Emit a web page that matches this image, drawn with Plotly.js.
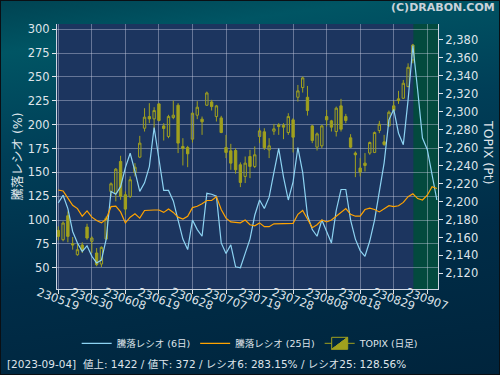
<!DOCTYPE html>
<html>
<head>
<meta charset="utf-8">
<script src="https://cdn.plot.ly/plotly-3.0.1.min.js"></script>
<style>
  html, body { margin:0; padding:0; }
  body { width:500px; height:375px; overflow:hidden;
    background: linear-gradient(172deg, #004352 0%, #005564 12%, #003f58 35%, #002d48 65%, #00243c 100%); }
  #wrap { position:absolute; left:0; top:0; width:500px; height:375px; box-sizing:border-box; border:1px solid #0a0f14; }
  #chart { position:absolute; left:0; top:0; width:500px; height:375px; }
</style>
</head>
<body>
<div id="wrap"></div>
<div id="chart"></div>
<script>
// Trading days (YYMMDD) on the category x axis
const dates = ['230519','230522','230523','230524','230525','230526','230529','230530','230531','230601',
 '230602','230605','230606','230607','230608','230609','230612','230613','230614','230615',
 '230616','230619','230620','230621','230622','230623','230626','230627','230628','230629',
 '230630','230703','230704','230705','230706','230707','230710','230711','230712','230713',
 '230714','230718','230719','230720','230721','230724','230725','230726','230727','230728',
 '230731','230801','230802','230803','230804','230807','230808','230809','230810','230814',
 '230815','230816','230817','230818','230821','230822','230823','230824','230825','230828',
 '230829','230830','230831','230901','230904','230905','230906','230907','230908','230911'];

// x tick labels
const tickLabels = ['230519','230530','230608','230619','230628','230707','230719','230728','230808','230818','230829','230907'];

// TOPIX daily candles (first 75 trading days)
const topixOpen = [2167.9,2157.5,2184.2,2153.1,2140.8,2151.6,2171.6,2155.7,2142.7,2130.4,
 2158.3,2211.3,2209.4,2244.7,2207.6,2205.7,2232.4,2249.5,2281.7,2294.7,
 2292.1,2308.8,2284.3,2272.5,2293.6,2307.3,2261.4,2260.2,2269.5,2296.2,
 2291.8,2307.3,2311.0,2294.7,2293.2,2260.2,2256.5,2256.9,2241.0,2228.0,
 2250.2,2239.1,2272.5,2277.7,2257.6,2278.4,2285.4,2285.1,2276.9,2291.0,
 2316.2,2327.0,2316.2,2284.3,2260.6,2262.1,2294.7,2289.9,2278.0,2306.6,
 2294.7,2271.0,2254.0,2237.3,2242.8,2254.0,2254.7,2279.1,2266.5,2284.3,
 2306.6,2314.4,2315.1,2328.1,2357.8];
const topixHigh = [2172.4,2177.9,2189.0,2160.5,2153.8,2154.6,2175.3,2161.2,2148.2,2150.1,
 2183.5,2221.3,2237.3,2251.0,2211.3,2228.0,2242.8,2273.2,2304.0,2309.6,
 2305.1,2309.6,2287.3,2296.6,2312.5,2309.6,2270.6,2262.1,2299.2,2311.8,
 2294.7,2322.5,2313.3,2307.7,2295.5,2274.3,2264.3,2259.5,2243.6,2250.2,
 2257.6,2261.4,2281.7,2281.7,2270.6,2286.5,2287.3,2287.3,2298.4,2292.9,
 2329.9,2339.2,2328.8,2285.4,2276.9,2285.4,2302.1,2291.0,2305.8,2314.4,
 2297.7,2275.1,2255.8,2248.4,2254.0,2266.9,2278.0,2289.9,2274.3,2301.4,
 2312.1,2323.3,2335.5,2354.0,2375.6];
const topixLow = [2156.8,2155.7,2154.6,2146.4,2139.7,2142.7,2157.5,2142.7,2127.9,2127.1,
 2157.5,2205.7,2200.2,2202.0,2185.3,2203.9,2228.0,2248.4,2278.0,2287.3,
 2279.9,2289.2,2268.0,2270.6,2291.8,2254.0,2240.2,2238.3,2265.8,2291.8,
 2274.3,2306.6,2301.4,2289.2,2276.2,2248.4,2235.4,2231.0,2216.1,2220.6,
 2226.1,2237.3,2265.1,2257.6,2248.4,2274.3,2274.3,2269.5,2274.3,2254.7,
 2311.4,2321.4,2295.8,2265.1,2256.9,2259.5,2283.6,2278.0,2272.5,2278.0,
 2287.3,2259.5,2227.2,2228.0,2233.5,2252.1,2254.0,2276.2,2262.1,2283.6,
 2299.2,2308.8,2314.4,2327.3,2354.0];
const topixClose = [2161.2,2176.1,2161.2,2151.6,2146.4,2145.6,2159.4,2159.4,2129.7,2149.0,
 2181.6,2219.8,2236.1,2205.7,2191.6,2224.3,2238.3,2265.1,2294.0,2292.1,
 2301.4,2290.3,2281.4,2294.7,2296.2,2265.1,2259.1,2253.2,2298.4,2305.1,
 2288.8,2321.0,2305.8,2306.6,2276.9,2254.7,2242.8,2235.4,2221.3,2242.8,
 2239.1,2252.1,2278.8,2259.9,2262.1,2281.0,2283.6,2282.9,2294.7,2271.7,
 2323.3,2337.8,2301.4,2268.0,2275.4,2284.3,2291.0,2282.9,2304.0,2280.6,
 2290.3,2260.6,2252.1,2232.8,2240.2,2265.8,2276.9,2286.2,2263.6,2299.5,
 2301.4,2312.5,2331.8,2349.6,2374.4];

// Advance/decline ratio, 6 day (%)
const ratio6 = [118,126,112,88,76,67,73,62,55,58,
 80,130,127,135,155,170,151,130,139,156,
 197,165,131,131,120,100,80,69,100,90,
 83,128,127,125,76,65,74,51,50,65,
 80,105,121,112,124,150,175,145,121,140,
 176,150,105,90,83,100,88,76,110,132,
 132,100,80,68,62,78,100,128,160,205,
 216,191,179,226,283,236,186,174,149,121];

// Advance/decline ratio, 25 day (%)
const ratio25 = [131.5,130.5,123,115.5,112,104,109.5,103,99.5,97,
 101,114,114.5,108.5,97,103,106.5,102,110,110.5,
 110.5,110.5,108,111.5,108,103,101,104,113,114.5,
 117,120.5,120.5,124.5,111,102,98,97.5,97,100,
 95,94,97,93,93,96,96,96,96,96.5,
 106,110,101,92,95,100,98,100,104,108,
 112,106,104,104,111,112.5,111,108.5,112,115,
 114,115,118.5,124.5,127.5,122.5,121,126,135,133];

const ratioTicks = [50,75,100,125,150,175,200,225,250,275,300];
const topixTicks = [2120,2140,2160,2180,2200,2220,2240,2260,2280,2300,2320,2340,2360,2380];

const seriesNames = ['騰落レシオ (6日)', '騰落レシオ (25日)', 'TOPIX (日足)'];
const infoText = '[2023-09-04]  値上: 1422 / 値下: 372 / レシオ6: 283.15% / レシオ25: 128.56%';

const candleDates = dates.slice(0, topixClose.length);
const olive = '#a0a01e';
const txt = '#dfe4ea';
const gridc = 'rgba(205,210,228,0.42)';

const traces = [
  { type:'scatter', mode:'lines', x:dates, y:ratio6, name:seriesNames[0], yaxis:'y2',
    line:{color:'#8dd3f2', width:1.2} },
  { type:'scatter', mode:'lines', x:dates, y:ratio25, name:seriesNames[1], yaxis:'y2',
    line:{color:'#ffa300', width:1.2} },
  { type:'candlestick', x:candleDates, open:topixOpen, high:topixHigh, low:topixLow, close:topixClose,
    name:seriesNames[2], yaxis:'y', whiskerwidth:0,
    increasing:{line:{color:olive, width:1}, fillcolor:'rgba(0,0,0,0)'},
    decreasing:{line:{color:olive, width:1}, fillcolor:olive} }
];

const font = 'DejaVu Sans, "Noto Sans CJK JP", sans-serif';
// rotated, centred tick labels placed at the category index of each tick date
const tickAnn = tickLabels.map(t => ({
  x:dates.indexOf(t), xref:'x', y:-0.038, yref:'paper', text:t, showarrow:false, textangle:20,
  xanchor:'center', yanchor:'middle', font:{size:11.5, color:txt}
}));

const layout = {
  width:500, height:375,
  margin:{l:57, r:62, t:24, b:86, pad:0},
  paper_bgcolor:'rgba(0,0,0,0)',
  plot_bgcolor:'#1c355f',
  font:{family:font, color:txt, size:11},
  showlegend:true,
  legend:{orientation:'h', x:0.507, xanchor:'center', y:-0.205, yanchor:'middle',
    font:{size:9.5, color:txt}, bgcolor:'rgba(0,0,0,0)', itemwidth:30, traceorder:'normal'},
  xaxis:{type:'category', categoryorder:'array', categoryarray:dates, range:[-0.27, 79.24],
    showgrid:true, gridcolor:gridc, gridwidth:1, tickvals:tickLabels, showticklabels:false,
    ticks:'outside', ticklen:4, tickcolor:txt, showline:true, linecolor:'#cfd6e2', linewidth:1,
    zeroline:false, rangeslider:{visible:false}, fixedrange:true},
  yaxis:{side:'right', range:[2102.6, 2397.8], tickvals:topixTicks, tickformat:',d',
    showgrid:false, ticks:'outside', ticklen:4, tickcolor:txt, showline:true, linecolor:'#cfd6e2',
    zeroline:false, tickfont:{size:11.5, color:txt}},
  yaxis2:{overlaying:'y', side:'left', range:[27.7, 305.5], tickvals:ratioTicks,
    showgrid:true, gridcolor:gridc, ticks:'outside', ticklen:4, tickcolor:txt, showline:true,
    linecolor:'#cfd6e2', zeroline:false, tickfont:{size:11.5, color:txt},
    title:{text:'騰落レシオ (%)', font:{size:12.5, color:txt}, standoff:2}},
  shapes:[{type:'rect', xref:'x', yref:'paper', x0:74.1, x1:79.24, y0:0, y1:1,
    fillcolor:'#034a3e', line:{width:0}, layer:'below'}],
  annotations: tickAnn.concat([
    {xref:'paper', yref:'paper', x:1.131, y:0.517, text:'TOPIX (Pt)', textangle:90, showarrow:false,
     xanchor:'center', yanchor:'middle', font:{size:12.5, color:txt}},
    {xref:'paper', yref:'paper', x:1.155, y:1.061, text:'<b>(C)DRABON.COM</b>', showarrow:false,
     xanchor:'right', yanchor:'middle', font:{size:11, color:'#c9d2da'}},
    {xref:'paper', yref:'paper', x:-0.137, y:-0.284, text:infoText, showarrow:false,
     xanchor:'left', yanchor:'middle', font:{size:10.5, color:txt}}
  ])
};

Plotly.newPlot('chart', traces, layout, {displayModeBar:false, staticPlot:true});
</script>
</body>
</html>
